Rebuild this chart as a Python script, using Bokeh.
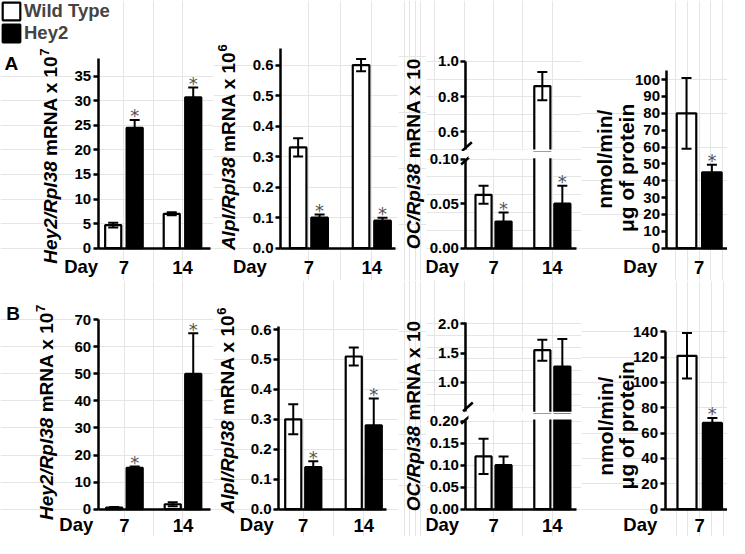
import math
from bokeh.plotting import figure
from bokeh.models import (Range1d, FixedTicker, PrintfTickFormatter, Label, LinearAxis,
                          Legend, LegendItem, BoxAnnotation)
from bokeh.layouts import row, column
from bokeh.embed import file_html
from bokeh.resources import INLINE

# ------------------------------------------------------------------ data
series_names = ["Wild Type", "Hey2"]
days_two = ["7", "14"]
days_one = ["7"]

# Panel A
a1_wt = [4.7, 7.0]
a1_wt_err = [0.5, 0.3]
a1_hey2 = [24.5, 30.7]
a1_hey2_err = [1.6, 2.0]
a1_sig = [True, True]

a2_wt = [0.33, 0.60]
a2_wt_err = [0.03, 0.02]
a2_hey2 = [0.10, 0.09]
a2_hey2_err = [0.01, 0.01]
a2_sig = [True, True]

a3_wt = [0.06, 0.86]
a3_wt_err = [0.01, 0.08]
a3_hey2 = [0.03, 0.05]
a3_hey2_err = [0.01, 0.02]
a3_sig = [True, True]

a4_wt = [80]
a4_wt_err = [21]
a4_hey2 = [45]
a4_hey2_err = [4.5]
a4_sig = [True]

# Panel B
b1_wt = [0.6, 1.8]
b1_wt_err = [0.2, 0.7]
b1_hey2 = [15.3, 50.0]
b1_hey2_err = [0.5, 15.0]
b1_sig = [True, True]

b2_wt = [0.30, 0.51]
b2_wt_err = [0.05, 0.03]
b2_hey2 = [0.14, 0.28]
b2_hey2_err = [0.02, 0.09]
b2_sig = [True, True]

b3_wt = [0.12, 1.55]
b3_wt_err = [0.04, 0.18]
b3_hey2 = [0.10, 1.27]
b3_hey2_err = [0.02, 0.47]
b3_sig = [False, False]

b4_wt = [121]
b4_wt_err = [18]
b4_hey2 = [68]
b4_hey2_err = [4]
b4_sig = [True]

# tick values
ticks_a1 = [0, 5, 10, 15, 20, 25, 30, 35]
ticks_a2 = [0.0, 0.1, 0.2, 0.3, 0.4, 0.5, 0.6]
ticks_a3_high = [0.6, 0.8, 1.0]
ticks_a3_low = [0.00, 0.05, 0.10]
ticks_a4 = [0, 10, 20, 30, 40, 50, 60, 70, 80, 90, 100]
ticks_b1 = [0, 10, 20, 30, 40, 50, 60, 70]
ticks_b2 = [0.0, 0.1, 0.2, 0.3, 0.4, 0.5, 0.6]
ticks_b3_high = [1.0, 1.5, 2.0]
ticks_b3_low = [0.00, 0.05, 0.10, 0.15, 0.20]
ticks_b4 = [0, 20, 40, 60, 80, 100, 120, 140]

# ------------------------------------------------------------------ layout helpers
REF_W, REF_H = 745.0, 554.0
OUT_W, OUT_H = 727, 536
SX, SY = OUT_W / REF_W, OUT_H / REF_H
FONT = "Liberation Sans"
C3 = 437  # split between the OC label strip and the OC chart
XFONT = "18.5px"


def sx(v):
    return int(round(v * SX))


def sy(v):
    return int(round(v * SY))


AW = {' ': 0.278, '/': 0.278, 'A': 0.722, 'C': 0.722, 'D': 0.722, 'H': 0.722,
      'N': 0.722, 'O': 0.778, 'R': 0.722, 'a': 0.556, 'e': 0.556, 'g': 0.611,
      'i': 0.278, 'l': 0.278, 'm': 0.889, 'n': 0.611, 'o': 0.611, 'p': 0.611,
      'r': 0.389, 't': 0.333, 'x': 0.556, 'y': 0.556, 'f': 0.333}


def tw(s, size):
    return sum(AW.get(c, 0.556) for c in s) * size


class Panel:
    pass


def base_fig(box, xr, yr):
    left, top, right, bottom = box
    P = Panel()
    P.X0, P.Y0 = sx(left), sy(top)
    P.W, P.H = sx(right) - P.X0, sy(bottom) - P.Y0
    p = figure(width=P.W, height=P.H, x_range=Range1d(*xr), y_range=Range1d(*yr),
               min_border=0, title=None, x_axis_location=None, y_axis_location=None,
               output_backend="svg", toolbar_location=None)
    p.outline_line_color = None
    p.background_fill_color = "white"
    p.border_fill_color = "white"
    P.p = p
    P.cx = lambda v: v * SX - P.X0
    P.cy = lambda v: P.H - (v * SY - P.Y0)
    return P


def chart(box, g0, unit, base, axis_top, v_lo, v_top, axis_x, x_end,
          ticks, fmt, day_labels, show_x=True, x_standoff=7):
    left, top, right, bottom = box
    X0, Y0 = sx(left), sy(top)
    W, H = sx(right) - X0, sy(bottom) - Y0
    g0_o, u_o = g0 * SX - X0, unit * SX
    xr = (-g0_o / u_o, (W - g0_o) / u_o)
    base_o, top_o = base * SY - Y0, axis_top * SY - Y0
    ppu = (base_o - top_o) / (v_top - v_lo)
    yr = (v_lo - (H - base_o) / ppu, v_top + top_o / ppu)
    P = base_fig(box, xr, yr)
    P.xr, P.yr, P.ppu, P.upx = xr, yr, ppu, u_o
    P.ax_x = (axis_x * SX - X0 - g0_o) / u_o
    ax_xe = (x_end * SX - X0 - g0_o) / u_o
    P.base_o = base_o
    # ref-pixel -> data helpers (for decorations such as the axis-break marks)
    P.dx = lambda v: (v * SX - X0 - g0_o) / u_o
    P.dy = lambda v: v_lo + (base_o - (v * SY - Y0)) / ppu
    p = P.p
    ya = LinearAxis(fixed_location=P.ax_x, bounds=(v_lo, v_top),
                    ticker=FixedTicker(ticks=ticks), formatter=PrintfTickFormatter(format=fmt))
    ya.axis_line_width = 2.5
    ya.major_tick_line_width = 2.5
    ya.major_tick_out = 5
    ya.major_tick_in = 0
    ya.minor_tick_line_color = None
    ya.major_label_text_font = FONT
    ya.major_label_text_font_style = "bold"
    ya.major_label_text_font_size = "15px"
    ya.major_label_text_color = "black"
    ya.major_label_standoff = 2
    p.add_layout(ya, "left")
    if show_x:
        xa = LinearAxis(fixed_location=v_lo, bounds=(P.ax_x, ax_xe),
                        ticker=FixedTicker(ticks=list(range(len(day_labels)))))
        xa.major_label_overrides = {i: d for i, d in enumerate(day_labels)}
        xa.axis_line_width = 2.5
        xa.major_tick_line_color = None
        xa.minor_tick_line_color = None
        xa.major_label_text_font = FONT
        xa.major_label_text_font_style = "bold"
        xa.major_label_text_font_size = XFONT
        xa.major_label_text_color = "black"
        xa.major_label_standoff = x_standoff
        p.add_layout(xa, "below")
    P.x_standoff = x_standoff
    return P


def add_bars(P, geom, wt, wt_err, tg, tg_err, sig):
    p = P.p
    ylo, yhi = P.yr
    dodge, bw = geom
    rends = []
    for k, (vals, errs, fill) in enumerate([(wt, wt_err, "white"), (tg, tg_err, "black")]):
        off = -dodge if k == 0 else dodge
        bx = [i + off for i, v in enumerate(vals) if v > ylo]
        bt = [v for v in vals if v > ylo]
        if bx:
            r = p.vbar(x=bx, top=bt, bottom=0, width=bw, fill_color=fill,
                       line_color="black", line_width=2.2)
            rends.append(r)
        else:
            rends.append(None)
        lo = [v - e for v, e in zip(vals, errs)]
        hi = [v + e for v, e in zip(vals, errs)]
        seg = [i for i in range(len(vals)) if hi[i] > ylo and lo[i] < yhi]
        if seg:
            p.segment(x0=[i + off for i in seg], y0=[lo[i] for i in seg],
                      x1=[i + off for i in seg], y1=[hi[i] for i in seg],
                      line_color="black", line_width=2)
        caps_x = [i + off for i in range(len(vals)) if ylo <= hi[i] <= yhi] + \
                 [i + off for i in range(len(vals)) if ylo <= lo[i] <= yhi]
        caps_y = [hi[i] for i in range(len(vals)) if ylo <= hi[i] <= yhi] + \
                 [lo[i] for i in range(len(vals)) if ylo <= lo[i] <= yhi]
        if caps_x:
            p.scatter(x=caps_x, y=caps_y, marker="dash", size=10,
                      line_color="black", line_width=2)
    for i in range(len(tg)):
        if sig[i]:
            yv = tg[i] + tg_err[i]
            if ylo <= yv <= yhi:
                p.add_layout(Label(x=i + dodge, y=yv, text="*", text_align="center",
                                   text_baseline="alphabetic", y_offset=4,
                                   text_font="DejaVu Sans", text_font_size="18px",
                                   text_color="#555555"))
    return rends


def txt(p, x, y, text, size, style="bold", align="left", baseline="alphabetic", angle=0.0):
    p.add_layout(Label(x=x, y=y, x_units="screen", y_units="screen", text=text,
                       angle=angle, text_align=align, text_baseline=baseline,
                       text_font=FONT, text_font_style=style,
                       text_font_size=f"{size}px", text_color="black"))


def ylabel(P, xref, yref, italic, rest, sup, size=19):
    x0, y0 = P.cx(xref), P.cy(yref)
    txt(P.p, x0, y0, italic, size, "bold italic", baseline="middle", angle=math.pi / 2)
    y1 = y0 + tw(italic + " ", size)
    txt(P.p, x0, y1, rest, size, "bold", baseline="middle", angle=math.pi / 2)
    if sup:
        y2 = y1 + tw(rest, size)
        txt(P.p, x0 - 0.32 * size, y2, sup, round(size * 0.68), "bold",
            baseline="middle", angle=math.pi / 2)


def day_label(P, xref):
    P.p.add_layout(Label(x=P.cx(xref), y=P.H - P.base_o - P.x_standoff - 1,
                         x_units="screen", y_units="screen", text="Day",
                         text_align="right", text_baseline="top", text_font=FONT,
                         text_font_style="bold", text_font_size=XFONT, text_color="black"))


def brk(P, xc, yc):
    # short slanted axis-break stroke centred on the axis, (xc, yc) in reference pixels
    P.p.segment(x0=[P.dx(xc - 5)], y0=[P.dy(yc + 4.5)], x1=[P.dx(xc + 5)], y1=[P.dy(yc - 4.5)],
                line_color="black", line_width=2.5)


def gap_box(P, bottom, top):
    P.p.add_layout(BoxAnnotation(left=P.ax_x + 2.5 / P.upx, right=P.xr[1],
                                 bottom=bottom, top=top, fill_color="white",
                                 fill_alpha=1.0, line_color=None))


# ------------------------------------------------------------------ row A
RA_T, RA_B = 0, 289
A1 = chart((0, RA_T, 218, RA_B), 126.5, 60, 256, 60, 0, 38.6, 100, 215,
           ticks_a1, "%d", days_two)
rA1 = add_bars(A1, (11 / 60, 16.5 / 60), a1_wt, a1_wt_err, a1_hey2, a1_hey2_err, a1_sig)
ylabel(A1, 51, 272, "Hey2/Rpl38", "mRNA x 10", "7")
day_label(A1, 100)
txt(A1.p, A1.cx(4), A1.cy(65), "A", 19)
legend = Legend(items=[LegendItem(label=series_names[0], renderers=[rA1[0]]),
                       LegendItem(label=series_names[1], renderers=[rA1[1]])],
                location="top_left", orientation="vertical", glyph_width=22, glyph_height=22,
                label_height=22, spacing=0, padding=0, margin=0,
                border_line_color=None, background_fill_alpha=0,
                label_text_font=FONT, label_text_font_style="bold",
                label_text_font_size="18.5px", label_standoff=2)
A1.p.add_layout(legend)

A2 = chart((218, RA_T, 408, RA_B), 316, 64.5, 256, 50, 0, 0.653, 287, 405,
           ticks_a2, "%.1f", days_two)
add_bars(A2, (11 / 64.5, 17 / 64.5), a2_wt, a2_wt_err, a2_hey2, a2_hey2_err, a2_sig)
ylabel(A2, 234, 258, "Alpl/Rpl38", "mRNA x 10", "6")
day_label(A2, 273)

LA3 = base_fig((408, RA_T, C3, RA_B), (0, 1), (0, 1))
ylabel(LA3, 423, 257, "OC/Rpl38", "mRNA x 10", None)
g3 = (10.25 / 60.25, 16.5 / 60.25)
A3u = chart((C3, RA_T, 595, 156), 505.25, 60.25, 154, 63, 0.5, 1.0, 477, 590,
            ticks_a3_high, "%.1f", days_two, show_x=False)
add_bars(A3u, g3, a3_wt, a3_wt_err, a3_hey2, a3_hey2_err, a3_sig)
gap_box(A3u, A3u.yr[0], 0.5)
brk(A3u, 478, 151)
A3l = chart((C3, 156, 595, RA_B), 505.25, 60.25, 256, 164, 0, 0.10, 477, 590,
            ticks_a3_low, "%.2f", days_two)
add_bars(A3l, g3, a3_wt, a3_wt_err, a3_hey2, a3_hey2_err, a3_sig)
gap_box(A3l, 0.10 + 1.0 / A3l.ppu, A3l.yr[1])
brk(A3l, 477, 165)
day_label(A3l, 470)

A4 = chart((595, RA_T, 745, RA_B), 716, 60, 256, 72, 0, 105.6, 683, 745,
           ticks_a4, "%d", days_one)
add_bars(A4, (13 / 60, 20 / 60), a4_wt, a4_wt_err, a4_hey2, a4_hey2_err, a4_sig)
txt(A4.p, A4.cx(619), A4.cy(164), "nmol/min/", 21, "bold", align="center",
    baseline="middle", angle=math.pi / 2)
txt(A4.p, A4.cx(641), A4.cy(173), "\u03bcg of protein", 21, "bold", align="center",
    baseline="middle", angle=math.pi / 2)
day_label(A4, 673)

# ------------------------------------------------------------------ row B
RB_T, RB_B = 289, 554
XS_B = 4
B1 = chart((0, RB_T, 218, RB_B), 127, 60, 525.7, 330, 0, 70, 100, 215,
           ticks_b1, "%d", days_two, x_standoff=XS_B)
add_bars(B1, (10.5 / 60, 16.5 / 60), b1_wt, b1_wt_err, b1_hey2, b1_hey2_err, b1_sig)
ylabel(B1, 47, 537, "Hey2/Rpl38", "mRNA x 10", "7")
day_label(B1, 95)
txt(B1.p, B1.cx(6), B1.cy(323), "B", 19)

B2 = chart((218, RB_T, 408, RB_B), 310.25, 62, 525.7, 337, 0, 0.61, 285, 396,
           ticks_b2, "%.1f", days_two, x_standoff=XS_B)
add_bars(B2, (10.25 / 62, 16.5 / 62), b2_wt, b2_wt_err, b2_hey2, b2_hey2_err, b2_sig)
ylabel(B2, 233, 530, "Alpl/Rpl38", "mRNA x 10", "6")
day_label(B2, 280)

LB3 = base_fig((408, RB_T, C3, RB_B), (0, 1), (0, 1))
ylabel(LB3, 423, 528, "OC/Rpl38", "mRNA x 10", None)
B3u = chart((C3, RB_T, 595, 427), 505.25, 60.25, 425, 333, 0.5, 2.02, 477, 590,
            ticks_b3_high, "%.1f", days_two, show_x=False)
add_bars(B3u, g3, b3_wt, b3_wt_err, b3_hey2, b3_hey2_err, b3_sig)
gap_box(B3u, B3u.yr[0], 0.5)
brk(B3u, 479, 420)
B3l = chart((C3, 427, 595, RB_B), 505.25, 60.25, 525.7, 434, 0, 0.202, 477, 590,
            ticks_b3_low, "%.2f", days_two, x_standoff=XS_B)
add_bars(B3l, g3, b3_wt, b3_wt_err, b3_hey2, b3_hey2_err, b3_sig)
gap_box(B3l, 0.202 + 1.0 / B3l.ppu, B3l.yr[1])
brk(B3l, 477, 433)
day_label(B3l, 470)

B4 = chart((595, RB_T, 745, RB_B), 716.5, 60, 525.7, 341.7, 0, 140.5, 681, 745,
           ticks_b4, "%d", days_one, x_standoff=XS_B)
add_bars(B4, (13 / 60, 19.5 / 60), b4_wt, b4_wt_err, b4_hey2, b4_hey2_err, b4_sig)
txt(B4.p, B4.cx(620), B4.cy(440), "nmol/min/", 21, "bold", align="center",
    baseline="middle", angle=math.pi / 2)
txt(B4.p, B4.cx(642), B4.cy(439), "\u03bcg of protein", 21, "bold", align="center",
    baseline="middle", angle=math.pi / 2)
day_label(B4, 673)

# ------------------------------------------------------------------ assemble
rowA = row(A1.p, A2.p, LA3.p, column(A3u.p, A3l.p), A4.p)
rowB = row(B1.p, B2.p, LB3.p, column(B3u.p, B3l.p), B4.p)
root = column(rowA, rowB)

open("out.html", "w").write(file_html(root, INLINE))
